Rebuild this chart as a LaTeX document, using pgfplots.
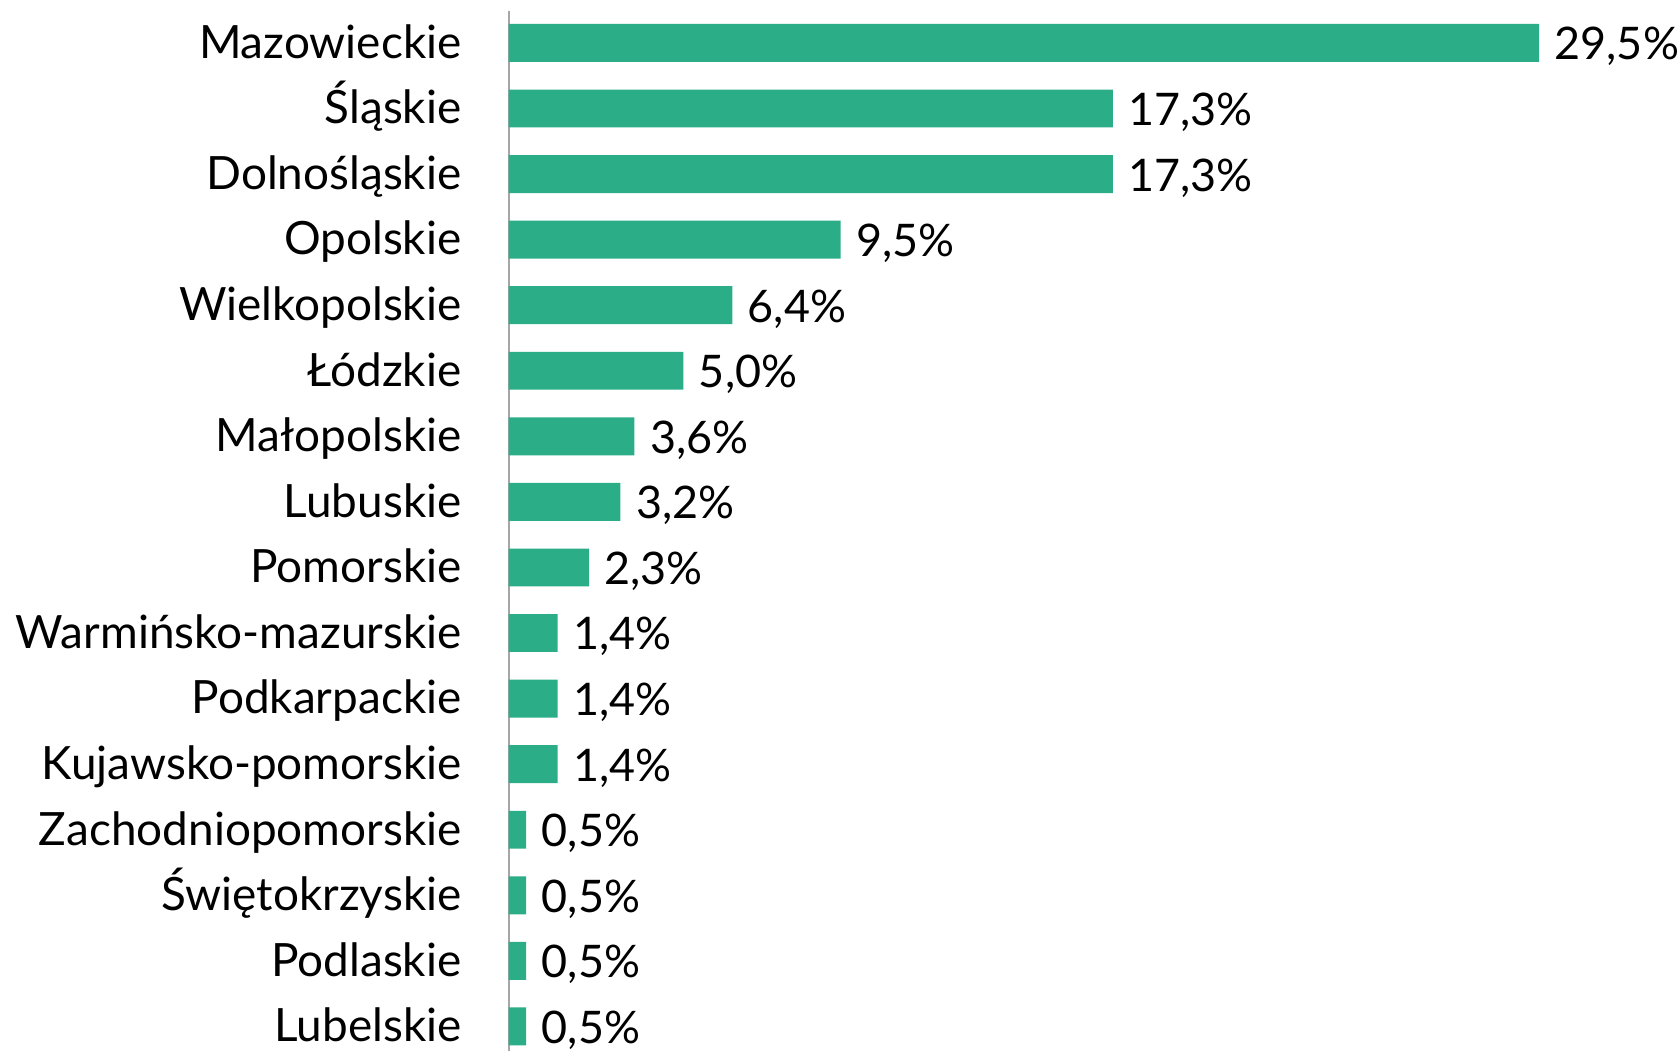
\documentclass[border=0pt]{standalone}
\usepackage{fontspec}
\setmainfont{Lato}
\usepackage{pgfplots}
\pgfplotsset{compat=1.18}
\definecolor{barc}{RGB}{43,174,135}
\begin{document}
\begin{tikzpicture}
\begin{axis}[name=ax, scale only axis, width=309.9pt, height=312.9pt,
 xbar, bar width=11.4pt, xmin=0, xmax=29.5, ymin=-0.487, ymax=15.38, y dir=reverse,
 hide x axis, axis y line*=left, axis line style={draw=black!35, line width=0.6pt},
 ytick={0,...,15},
 yticklabels={Mazowieckie,Śląskie,Dolnośląskie,Opolskie,Wielkopolskie,Łódzkie,Małopolskie,Lubuskie,Pomorskie,Warmińsko-mazurskie,Podkarpackie,Kujawsko-pomorskie,Zachodniopomorskie,Świętokrzyskie,Podlaskie,Lubelskie},
 major tick length=0pt,
 y tick label style={font=\fontsize{13.8}{16}\selectfont, inner sep=0pt, anchor=base east, xshift=-14pt, yshift=-4.6pt},
 /pgf/number format/assume math mode=true,
 nodes near coords={\pgfmathprintnumber[fixed, fixed zerofill, precision=1, use comma]{\pgfplotspointmeta}\%},
 every node near coord/.append style={font=\fontsize{13.5}{16}\selectfont, black, inner sep=0pt, anchor=base west, xshift=4.5pt, yshift=-5.1pt},
 point meta=x,
]
\addplot[fill=barc, draw=none] coordinates {
(29.5,0) (17.3,1) (17.3,2) (9.5,3) (6.4,4) (5.0,5) (3.6,6) (3.2,7) (2.3,8) (1.4,9) (1.4,10) (1.4,11) (0.5,12) (0.5,13) (0.5,14) (0.5,15)};
\end{axis}
\path (ax.south west) ++(-153pt,0) rectangle ([xshift=40.8pt,yshift=3.3pt]ax.north east);
\end{tikzpicture}
\end{document}
